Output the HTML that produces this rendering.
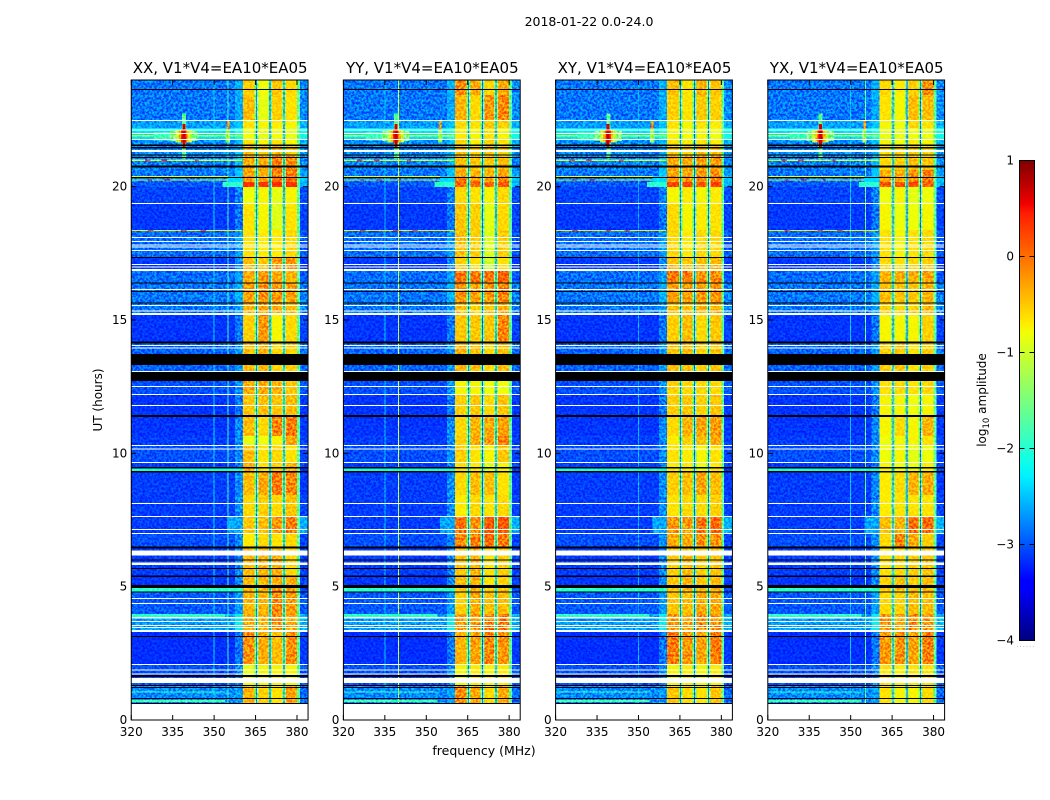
<!DOCTYPE html>
<html lang="en">
<head>
<meta charset="utf-8">
<title>2018-01-22 0.0-24.0</title>
<style>
html,body{margin:0;padding:0;background:#fff;width:1050px;height:800px;overflow:hidden}
svg{display:block}
text{font-family:"DejaVu Sans","Liberation Sans",sans-serif;fill:#000}
.tick{font-size:12px}
.ttl{font-size:15px}
</style>
</head>
<body>
<svg id="fig" xmlns="http://www.w3.org/2000/svg" width="1050" height="800" viewBox="0 0 1050 800">
  <defs>
    <filter id="grain" x="0" y="0" width="1" height="1" color-interpolation-filters="sRGB">
      <feTurbulence type="fractalNoise" baseFrequency="0.42" numOctaves="2" seed="7"/>
      <feColorMatrix type="matrix" values="3.2 0 0 0 -1.1  3.2 0 0 0 -1.1  3.2 0 0 0 -1.1  0 0 0 0 1"/>
    </filter>
    <linearGradient id="jet" x1="0" y1="1" x2="0" y2="0">
      <stop offset="0" stop-color="#00007f"/>
      <stop offset="0.11" stop-color="#0000ff"/>
      <stop offset="0.125" stop-color="#0000ff"/>
      <stop offset="0.34" stop-color="#00f0ff"/>
      <stop offset="0.375" stop-color="#10ffe8"/>
      <stop offset="0.64" stop-color="#f0ff06"/>
      <stop offset="0.66" stop-color="#ffec00"/>
      <stop offset="0.89" stop-color="#ff1e00"/>
      <stop offset="0.91" stop-color="#f00000"/>
      <stop offset="1" stop-color="#7f0000"/>
    </linearGradient>
  </defs>
  <text x="589" y="26" font-size="12.5" text-anchor="middle">2018-01-22 0.0-24.0</text>
  <text class="tick" x="0" y="0" text-anchor="middle" transform="translate(102,400) rotate(-90)">UT (hours)</text>
  <text x="484" y="755" font-size="12.5" text-anchor="middle">frequency (MHz)</text>
  <g id="panels"></g>
  <g id="cbar">
    <rect x="1019.5" y="160.5" width="15" height="480" fill="url(#jet)"/>
    <g id="cbarTicks"></g>
    <rect x="1019.5" y="160.5" width="15" height="480" fill="none" stroke="#000" stroke-width="1"/>
    <text class="tick" text-anchor="middle" transform="translate(986,400) rotate(-90)">log<tspan font-size="8.5" dy="3">10</tspan><tspan dy="-3"> amplitude</tspan></text>
    <text x="1026" y="647" font-size="6" letter-spacing="1.2" text-anchor="middle" style="fill:#888">......</text>
  </g>
</svg>
<script>
// ---- Panel titles and axis tick labels
const panelTitles = ["XX, V1*V4=EA10*EA05", "YY, V1*V4=EA10*EA05", "XY, V1*V4=EA10*EA05", "YX, V1*V4=EA10*EA05"];
const freqTicks = [320, 335, 350, 365, 380];
const hourTicks = [0, 5, 10, 15, 20];
const colorbarTicks = [1, 0, -1, -2, -3, -4];

// ---- Time bands (UT hours, descending); row i spans rowEdges[i]..rowEdges[i+1]
const rowEdges = [24,23.44,22.5,22.2,21.79,21.56,21.15,20.62,20.4,20.18,19.99,19.39,18.38,17.33,16.88,16.43,15.64,15.19,14.18,13.05,12.71,12.19,11.4,10.65,10.31,9.68,9.34,8.44,7.65,7.01,6.49,5.4,4.88,3.98,3.38,2.1,1.31,0.64];

// ---- log10 amplitude off-band per row: [320-357.5 MHz, 357.5-360.4 MHz fringe, 381-384 MHz]
const offBandLevels = [
[-2.8,-2.5,-2.7],[-2.8,-2.55,-2.7],[-2.6,-2.4,-2.5],[-2.25,-2.1,-2.15],[-2.7,-2.45,-2.5],[-2.7,-2.5,-2.6],[-2.75,-2.45,-2.7],[-2.8,-2.4,-2.6],
[-2.85,-2.2,-2.4],[-2.95,-2.0,-2.5],[-3.05,-2.75,-3.0],[-3.1,-2.8,-3.05],[-2.85,-2.6,-2.95],[-3.1,-2.7,-3.1],[-2.85,-2.6,-2.95],[-2.8,-2.5,-2.75],
[-2.8,-2.6,-2.75],[-3.12,-2.8,-3.05],[-2.9,-2.6,-2.85],[-2.9,-2.6,-2.85],[-3.0,-2.65,-2.95],[-3.12,-2.8,-3.1],[-3.12,-2.7,-3.1],[-3.08,-2.7,-3.05],
[-3.0,-2.7,-3.05],[-3.08,-2.8,-3.05],[-3.08,-2.7,-3.1],[-3.08,-2.7,-3.05],[-3.08,-2.2,-2.5],[-3.0,-2.7,-3.05],[-3.08,-2.7,-3.05],[-3.12,-2.7,-3.05],
[-2.95,-2.6,-2.95],[-2.6,-2.2,-2.5],[-3.15,-2.8,-3.1],[-3.0,-2.7,-2.95],[-2.7,-2.6,-2.85]];

// ---- log10 amplitude in the four 360-380 MHz sub-bands, one row per time band
const bandLevelsXX = [
[-.55,-.8,-.5,-.6],[-.45,-.85,-.55,-.65],[-.65,-.75,-.7,-.75],[-.8,-.85,-.8,-.85],[-.65,-.75,-.65,-.75],[-.5,-.55,-.45,-.55],[-.35,-.35,-.1,-.2],[-.3,-.35,-.1,-.1],
[-.25,-.3,0,0],[.3,.3,.3,.3],[-.8,-.75,-.85,-.75],[-.65,-.75,-.9,-.65],[-.65,-.7,-.7,-.6],[-.45,-.5,-.25,-.25],[-.35,-.25,-.35,-.4],[-.3,-.2,-.25,-.3],
[-.4,-.3,-.35,-.45],[-.55,-.25,-.75,-.6],[-.45,-.4,-.6,-.55],[-.45,-.4,-.6,-.55],[-.35,-.35,-.4,-.5],[-.5,-.45,-.5,-.45],[-.45,-.6,-.15,-.1],[-.85,-.8,-.75,-.35],
[-.45,-.65,-.6,-.65],[-.4,-.65,-.55,-.4],[-.45,-.35,-.1,-.15],[-.6,-.55,-.6,-.5],[-.5,-.45,-.25,-.1],[-.7,-.6,-.65,-.6],[-.45,-.4,-.4,-.6],[-.45,-.4,-.35,-.35],
[-.4,-.4,-.15,-.25],[-.35,-.4,-.2,-.35],[-.2,-.35,-.45,-.2],[-.85,-.75,-.75,-.75],[-.4,-.55,-.65,-.3]];
const bandLevelsYY = [
[-.2,-.35,-.6,-.35],[-.4,-.6,-.25,-.15],[-.6,-.65,-.5,-.55],[-.7,-.75,-.65,-.75],[-.6,-.7,-.55,-.65],[-.5,-.55,-.5,-.55],[-.45,-.5,-.5,-.45],[-.35,-.4,-.4,-.3],
[-.15,-.25,-.3,-.1],[.05,.05,.05,.1],[-.6,-.65,-.75,-.6],[-.5,-.55,-.85,-.6],[-.45,-.55,-.9,-.55],[-.55,-.65,-1,-.65],[-.05,-.05,-.05,.05],[-.25,-.3,-.25,-.15],
[-.45,-.55,-.5,-.35],[-.5,-.5,-.5,-.15],[-.4,-.45,-.6,-.45],[-.4,-.45,-.6,-.45],[-.75,-.75,-.8,-.8],[-.55,-.5,-.6,-.5],[-.6,-.4,-.35,-.3],[-.55,-.35,-.2,-.1],
[-.55,-.65,-.75,-.5],[-.65,-.7,-.9,-.75],[-.6,-.45,-.45,-.65],[-.7,-.6,-.65,-.6],[-.05,-.2,.1,.1],[-.15,-.1,0,-.1],[-.5,-.4,-.65,-.55],[-.45,-.4,-.65,-.55],
[-.55,-.35,-.45,-.45],[-.25,-.25,-.1,-.1],[-.4,-.3,-.15,-.25],[-.75,-.7,-.75,-.7],[-.2,-.35,-.6,-.35]];
const bandLevelsXY = [
[-.45,-.65,-.4,-.5],[-.55,-.65,-.5,-.55],[-.65,-.75,-.65,-.7],[-.75,-.8,-.75,-.8],[-.65,-.7,-.65,-.7],[-.55,-.55,-.5,-.5],[-.35,-.35,-.3,-.25],[-.3,-.3,-.25,-.2],
[-.25,-.25,-.15,-.1],[.2,.2,.15,.2],[-.75,-.7,-.75,-.7],[-.6,-.75,-.7,-.65],[-.6,-.7,-.6,-.6],[-.45,-.5,-.45,-.4],[-.1,-.1,-.2,-.15],[-.3,-.3,-.25,-.25],
[-.45,-.45,-.4,-.4],[-.55,-.45,-.6,-.5],[-.45,-.45,-.55,-.5],[-.45,-.45,-.55,-.5],[-.55,-.6,-.6,-.6],[-.55,-.5,-.55,-.5],[-.6,-.4,-.3,-.25],[-.7,-.55,-.45,-.35],
[-.65,-.7,-.75,-.65],[-.7,-.7,-.8,-.7],[-.55,-.45,-.3,-.45],[-.65,-.6,-.6,-.55],[-.25,-.25,-.05,0],[-.35,-.35,-.2,-.2],[-.55,-.45,-.55,-.5],[-.5,-.4,-.5,-.45],
[-.5,-.45,-.35,-.35],[-.25,-.3,-.15,-.2],[-.1,-.25,-.3,-.1],[-.75,-.7,-.75,-.7],[-.5,-.6,-.65,-.5]];
const bandLevelsYX = [
[-.6,-.7,-.55,-.2],[-.65,-.75,-.45,-.45],[-.75,-.8,-.6,-.65],[-.85,-.85,-.8,-.85],[-.75,-.8,-.7,-.75],[-.65,-.6,-.55,-.6],[-.6,-.55,-.45,-.5],[-.35,-.35,-.2,-.1],
[-.3,-.35,-.2,-.1],[.1,.15,.2,.05],[-.8,-.75,-.85,-.8],[-.75,-.8,-.8,-.75],[-.65,-.75,-.65,-.6],[-.6,-.65,-.6,-.55],[-.4,-.35,-.35,-.3],[-.45,-.5,-.5,-.4],
[-.55,-.6,-.55,-.4],[-.75,-.75,-.75,-.55],[-.55,-.5,-.65,-.55],[-.55,-.5,-.65,-.55],[-.65,-.6,-.65,-.6],[-.75,-.75,-.8,-.75],[-.75,-.6,-.75,-.4],[-.8,-.75,-.75,-.65],
[-.8,-.75,-.85,-.8],[-.75,-.8,-.8,-.7],[-.7,-.6,-.4,-.35],[-.7,-.65,-.65,-.65],[-.45,-.4,-.05,0],[-.6,-.15,-.35,-.55],[-.65,-.6,-.55,-.5],[-.55,-.45,-.55,-.45],
[-.6,-.55,-.45,-.45],[-.25,-.35,-.15,-.25],[-.25,-.2,-.3,-.1],[-.65,-.7,-.65,-.65],[-.65,-.75,-.75,-.6]];

// ---- Frequency layout of the heatmap columns (MHz)
const offBandEdges = [320, 357.5, 360.4];
const subBandEdges = [[360.4,364.6],[366,369.6],[371,374.6],[376,380]];
const gapEdges = [[364.6,366],[369.6,371],[374.6,376],[380,381]];
const gapLevels = [-1.5,-1.6,-1.4,-1.7];
const gapCoreFreqs = [365.3,370.3,375.3];
const gapCoreLevels = [-2.7,-2.9,-2.8];
const rightEdges = [381, 384];

// ---- Interference patches: [MHz start, MHz end, hour top, hour bottom, log10 amplitude]
const rfiPatches = [
[320,360,21.93,21.89,-1.1],[320,360,21.01,20.97,-1.0],[320,358,20.4,20.36,-.9],[320,358,20.27,20.23,-1.0],
[320,360,18.38,18.34,-.7],[320,354,3.98,3.87,-2.0],[320,360.4,9.43,9.34,-2.1],[320,360.4,4.95,4.82,-2.0],
[320,354,1.07,1.03,-1.9],[320,354,.75,.68,-1.9],
[325,327,21.01,20.97,.2],[331,333,21.01,20.97,.3],[343,344.5,21.01,20.97,.2],
[326,327.5,20.27,20.23,.2],[332,334,20.27,20.23,.3],[340,341,20.27,20.23,.1],
[326,328,18.38,18.34,.2],[338,340,18.38,18.34,.2],[345,347,18.38,18.34,.2],
[353,360.4,20.18,19.99,-2.0],[355,360.4,20.4,20.18,-2.3],[355,360.4,7.65,7.01,-2.55],
[328,334,22.05,21.74,-1.9],[334,344,22.08,21.72,-1.5],[336,342,22.15,21.65,-1.1],[338.4,339.8,22.75,21.05,-1.7],
[337.2,340.8,22.08,21.7,-.4],[338,340,22.1,21.66,.3],[338.5,339.6,22.35,21.45,.65],
[354.6,355.5,22.5,21.65,-.2],[354.2,355.8,22.15,21.65,-1.3]
];

// ---- Faint vertical interference per panel: [MHz, log10 amplitude]
const vLinesXX = [[350,-2.3],[355,-1.9]];
const vLinesYY = [[335,-2.4],[340,-1.0]];
const vLinesXY = [[350,-2.5]];
const vLinesYX = [[350,-2.4],[355.3,-1.6]];

// ---- Flagged integrations: [hour top, hour bottom]
const whiteFlags = [
[22.5,22.46],[22.14,22.1],[22.01,21.97],[21.79,21.75],[21.38,21.3],[19.39,19.35],[18.11,18.07],[17.96,17.92],[17.83,17.79],[17.75,17.71],
[17.63,17.59],[17.1,17.06],[17.01,16.97],[16.91,16.84],[16.16,16.12],[15.56,15.52],[15.36,15.32],[15.26,15.19],[14.06,14.02],[13.97,13.93],
[13.09,13.05],[12.53,12.49],[12.23,12.19],[11.81,11.77],[10.31,10.27],[10.18,10.14],[9.68,9.64],[8.14,8.1],[7.65,7.61],[7.16,7.12],
[7.01,6.97],[6.36,6.16],[5.91,5.81],[4.58,4.54],[4.39,4.35],[3.87,3.8],[3.71,3.67],[3.56,3.52],[3.49,3.45],[3.38,3.3],
[2.1,2.06],[1.89,1.85],[1.74,1.7],[1.58,1.39]];
const blackFlags = [
[23.66,23.62],[21.58,21.53],[21.49,21.43],[21.21,21.17],[21.11,21.07],[20.79,20.72],[20.36,20.32],[17.36,17.32],[16.41,16.37],[16.09,16.05],
[15.66,15.62],[14.19,14.12],[13.73,13.31],[13.05,12.72],[11.44,11.36],[9.49,9.43],[9.34,9.28],[6.51,6.43],[6.02,5.98],[5.7,5.66],
[5.41,5.37],[5.06,4.95],[4.82,4.78],[3.15,3.11],[1.69,1.61],[1.31,1.27],[1.24,1.2],[.83,.79],[.64,.6]];

const panelLefts = [131.25, 343.4, 555.6, 767.8];
const panelBands = [bandLevelsXX, bandLevelsYY, bandLevelsXY, bandLevelsYX];
const panelVLines = [vLinesXX, vLinesYY, vLinesXY, vLinesYX];
const panelW = 176.8, axTop = 80, axBottom = 720;
const NS = "http://www.w3.org/2000/svg";

function scaleHour(h) { return axBottom - h / 24 * (axBottom - axTop); }
function jet(v) {
  const t = Math.max(0, Math.min(1, (v + 4) / 5));
  const seg = (p) => { for (let i = 1; i < p.length; i++) { if (t <= p[i][0]) { const a = p[i-1], b = p[i]; return a[1] + (b[1]-a[1]) * (t-a[0]) / (b[0]-a[0]); } } return p[p.length-1][1]; };
  const r = seg([[0,0],[.35,0],[.66,1],[.89,1],[1,.5]]);
  const g = seg([[0,0],[.125,0],[.375,1],[.64,1],[.91,0],[1,0]]);
  const b = seg([[0,.5],[.11,1],[.34,1],[.65,0],[1,0]]);
  return "rgb(" + Math.round(r*255) + "," + Math.round(g*255) + "," + Math.round(b*255) + ")";
}
function box(x0, x1, y0, y1, fill) {
  const el = document.createElementNS(NS, "rect");
  el.setAttribute("x", x0);
  el.setAttribute("y", y0);
  el.setAttribute("width", Math.max(0, x1 - x0));
  el.setAttribute("height", Math.max(0, y1 - y0));
  el.setAttribute("fill", fill);
  return el;
}
function line(x1, y1, x2, y2) {
  const el = document.createElementNS(NS, "line");
  el.setAttribute("x1", x1);
  el.setAttribute("y1", y1);
  el.setAttribute("x2", x2);
  el.setAttribute("y2", y2);
  el.setAttribute("stroke", "#000");
  el.setAttribute("stroke-width", "1");
  return el;
}
function label(x, y, str, anchor) {
  const el = document.createElementNS(NS, "text");
  el.setAttribute("x", x);
  el.setAttribute("y", y);
  el.setAttribute("text-anchor", anchor);
  el.textContent = str;
  return el;
}

const root = document.getElementById("panels");
panelTitles.forEach(function (title, p) {
  const left = panelLefts[p];
  const scaleFreq = function (f) { return left + (f - 320) / 64 * panelW; };
  const g = document.createElementNS(NS, "g");
  
  
  root.appendChild(g);

  const cells = document.createElementNS(NS, "g");
  cells.setAttribute("shape-rendering", "crispEdges");
  
  
  g.appendChild(cells);

  // heatmap cells per time band
  for (let i = 0; i < rowEdges.length - 1; i++) {
    const y0 = scaleHour(rowEdges[i]), y1 = scaleHour(rowEdges[i + 1]);
    const off = offBandLevels[i];
    for (let c = 0; c < 2; c++) {
      const el = box(scaleFreq(offBandEdges[c]), scaleFreq(offBandEdges[c + 1]), y0, y1, jet(off[c]));
      
      
      cells.appendChild(el);
    }
    const bands = panelBands[p][i];
    subBandEdges.forEach(function (edge, b) {
      const el = box(scaleFreq(edge[0]), scaleFreq(edge[1]), y0, y1, jet(bands[b]));
      
      
      cells.appendChild(el);
    });
    gapEdges.forEach(function (edge, b) {
      const el = box(scaleFreq(edge[0]), scaleFreq(edge[1]), y0, y1, jet(gapLevels[b]));
      
      
      cells.appendChild(el);
    });
    const rightCell = box(scaleFreq(rightEdges[0]), scaleFreq(rightEdges[1]), y0, y1, jet(off[2]));
    
    
    cells.appendChild(rightCell);
  }
  // vertical lines and channel gap cores
  panelVLines[p].forEach(function (v) {
    const el = box(scaleFreq(v[0]) - .5, scaleFreq(v[0]) + .5, scaleHour(24), scaleHour(.64), jet(v[1]));
    
    
    cells.appendChild(el);
  });
  gapCoreFreqs.forEach(function (f, k) {
    const el = box(scaleFreq(f) - .5, scaleFreq(f) + .5, scaleHour(24), scaleHour(.64), jet(gapCoreLevels[k]));
    
    
    cells.appendChild(el);
  });
  // interference patches
  rfiPatches.forEach(function (r) {
    const el = box(scaleFreq(r[0]), scaleFreq(r[1]), scaleHour(r[2]), scaleHour(r[3]), jet(r[4]));
    
    
    cells.appendChild(el);
  });
  // fine grain overlay so the image reads as a spectrogram rather than flat blocks
  const grain = box(left, left + panelW, scaleHour(24), scaleHour(.64), "#888");
  grain.setAttribute("filter", "url(#grain)");
  grain.setAttribute("style", "mix-blend-mode:overlay;opacity:.55");
  
  
  g.appendChild(grain);

  // flagged rows on top
  const flags = document.createElementNS(NS, "g");
  flags.setAttribute("shape-rendering", "crispEdges");
  
  
  g.appendChild(flags);
  whiteFlags.forEach(function (r) {
    const el = box(left, left + panelW, scaleHour(r[0]), scaleHour(r[1]), "#fff");
    
    
    flags.appendChild(el);
  });
  blackFlags.forEach(function (r) {
    const el = box(left, left + panelW, scaleHour(r[0]), scaleHour(r[1]), "#000");
    
    
    flags.appendChild(el);
  });

  // ticks and labels
  freqTicks.forEach(function (f) {
    const x = scaleFreq(f);
    const t1 = line(x, axBottom, x, axBottom - 5);
    
    
    g.appendChild(t1);
    const t2 = line(x, axTop, x, axTop + 5);
    
    
    g.appendChild(t2);
    const t = label(x, 736, String(f), "middle");
    t.setAttribute("class", "tick");
    
    
    g.appendChild(t);
  });
  hourTicks.forEach(function (h) {
    const y = scaleHour(h);
    const t1 = line(left, y, left + 5, y);
    
    
    g.appendChild(t1);
    const t2 = line(left + panelW, y, left + panelW - 5, y);
    
    
    g.appendChild(t2);
    const t = label(left - 4, y + 4, String(h), "end");
    t.setAttribute("class", "tick");
    
    
    g.appendChild(t);
  });

  const frame = box(left, left + panelW, axTop, axBottom, "none");
  frame.setAttribute("stroke", "#000");
  frame.setAttribute("stroke-width", "1");
  
  
  g.appendChild(frame);

  const ttl = label(left + panelW / 2 + .5, 73, title, "middle");
  ttl.setAttribute("class", "ttl");
  
  
  g.appendChild(ttl);
});

// colorbar ticks
const cbG = document.getElementById("cbarTicks");
colorbarTicks.forEach(function (v) {
  const y = 640.5 - (v + 4) / 5 * 480;
  const a = line(1019.5, y, 1024.5, y);
  
  
  cbG.appendChild(a);
  const b = line(1029.5, y, 1034.5, y);
  
  
  cbG.appendChild(b);
  const t = label(1014, y + 4, v < 0 ? "\u2212" + Math.abs(v) : String(v), "end");
  t.setAttribute("class", "tick");
  
  
  cbG.appendChild(t);
});
</script>
</body>
</html>
